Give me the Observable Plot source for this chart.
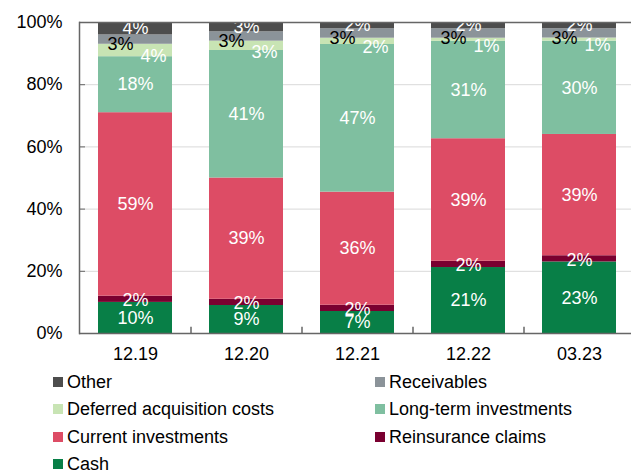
<!DOCTYPE html>
<html><head><meta charset="utf-8">
<script src="https://cdn.jsdelivr.net/npm/d3@7"></script>
<script src="https://cdn.jsdelivr.net/npm/@observablehq/plot@0.6"></script>
<style>
body{margin:0;background:#fff;font-family:"Liberation Sans",Arial,sans-serif;overflow:hidden}
#legend{display:grid;grid-template-columns:322px auto;padding-left:53px;grid-auto-rows:27.5px;font-size:18px;color:#000}
.item{display:flex;align-items:center;white-space:nowrap;line-height:16px}
.sw{width:10px;height:10px;margin-right:4px;flex:none}
</style></head><body><div id="chart"></div><div id="legend"></div>
<script>
const periods = ["12.19","12.20","12.21","12.22","03.23"];
const series = ["Cash","Reinsurance claims","Current investments","Long-term investments","Deferred acquisition costs","Receivables","Other"];
const cash = [10,9,7,21,23];
const reinsurance = [2,2,2,2,2];
const current = [59,39,36,39,39];
const longTerm = [18,41,47,31,30];
const dac = [4,3,2,1,1];
const receivables = [3,3,3,3,3];
const other = [4,3,2,2,2];
const colors = ["#087f47","#7a0030","#dd4c65","#7fbfa0","#c8e4b4","#8b9399","#4d4d4d"];
const legendOrder = ["Other","Receivables","Deferred acquisition costs","Long-term investments","Current investments","Reinsurance claims","Cash"];
const yTicks = [0,0.2,0.4,0.6,0.8,1];

const valuesBySeries = [cash,reinsurance,current,longTerm,dac,receivables,other];
const data = [];
periods.forEach((p,i) => series.forEach((s,j) => data.push({period:p, series:s, value:valuesBySeries[j][i]})));

const stack = (o) => Plot.stackY({offset:"normalize", x:"period", y:"value", z:"series", ...o});
const label = (names, o) => Plot.text(data, stack({
  text: d => names.includes(d.series) ? d.value + "%" : null,
  fill: "#fff", fontSize: 18, ...o
}));

const chart = Plot.plot({
  width: 631, height: 368,
  marginLeft: 79, marginRight: 0, marginTop: 22, marginBottom: 35,
  style: {fontFamily: '"Liberation Sans", Arial, sans-serif', fontSize: "18px", color: "#000", background: "#fff"},
  x: {domain: periods, range: [79, 634], paddingInner: 1/3, paddingOuter: 1/6, label: null},
  y: {domain: [0,1], label: null},
  color: {domain: series, range: colors},
  marks: [
    Plot.gridY(yTicks.slice(1,5), {stroke: "#d9d9d9", strokeOpacity: 1}),
    Plot.axisY({ticks: yTicks.slice(1,5), tickSize: -6, tickFormat: () => "", stroke: "#666"}),
    Plot.barY(data, stack({fill: "series"})),
    label(["Cash","Current investments","Long-term investments","Other"], {}),
    label(["Reinsurance claims"], {dy: 1}),
    label(["Deferred acquisition costs"], {dx: 18, dy: 6}),
    label(["Receivables"], {dx: -15, dy: 5, fill: "#000"}),
    Plot.axisY({ticks: yTicks, tickFormat: d3.format(".0%"), tickSize: 0, tickPadding: 17, fontSize: 18}),
    Plot.axisX({tickSize: 0, tickPadding: 14, fontSize: 18}),
    Plot.ruleX(periods.slice(0,4), {x: d => d, dx: 55.5, y1: 0, y2: 0.02, stroke: "#666", strokeWidth: 1.5}),
    Plot.ruleY([0,1], {stroke: "#666", strokeWidth: 1.5}),
    Plot.frame({anchor: "left", stroke: "#666", strokeWidth: 1.5})
  ]
});
document.getElementById("chart").append(chart);

const legend = document.getElementById("legend");
legendOrder.forEach(name => {
  const it = document.createElement("div");
  it.className = "item";
  const sw = document.createElement("span");
  sw.className = "sw";
  sw.style.background = colors[series.indexOf(name)];
  const t = document.createElement("span");
  t.textContent = name;
  it.append(sw, t);
  legend.append(it);
});
</script>
</body></html>
